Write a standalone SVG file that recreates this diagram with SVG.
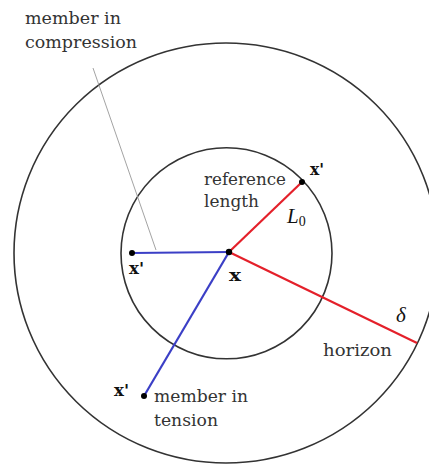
<svg xmlns="http://www.w3.org/2000/svg" width="429" height="464" viewBox="0 0 429 464">
<style>
.circ{fill:none;stroke:#333;stroke-width:1.6}
.red{stroke:#e4202a;stroke-width:2.2;fill:none}
.blue{stroke:#3b3fc6;stroke-width:2.2;fill:none}
.lead{stroke:#999;stroke-width:0.9;fill:none}
.lbl{font-family:"DejaVu Serif","Liberation Serif",serif;font-size:17px;fill:#333}
.pt{font-family:"DejaVu Serif","Liberation Serif",serif;font-size:17px;font-weight:bold;fill:#111}
.math{font-family:"Liberation Serif","DejaVu Serif",serif;font-style:italic;font-size:21px;fill:#111}
.dot{fill:#000}
</style>
<rect width="429" height="464" fill="#fff"/>
<g id="horizon-circle"><ellipse class="circ" cx="226" cy="253" rx="212" ry="210"/></g>
<g id="reference-circle"><circle class="circ" cx="226.5" cy="253.3" r="105.5"/></g>
<g id="connectors">
<line class="lead" x1="93" y1="68" x2="156" y2="250"/>
<line class="red" x1="229" y1="252" x2="302" y2="182"/>
<line class="red" x1="229" y1="252" x2="417" y2="343"/>
<line class="blue" x1="229" y1="252" x2="132" y2="253"/>
<line class="blue" x1="229" y1="252" x2="144" y2="396"/>
</g>
<g id="node-x"><circle class="dot" cx="229" cy="252" r="3.2"/><text class="pt" x="229" y="281" textLength="12" lengthAdjust="spacingAndGlyphs">x</text></g>
<g id="node-xp-ref"><circle class="dot" cx="302" cy="182" r="3"/><text class="pt" x="310" y="175" textLength="14" lengthAdjust="spacingAndGlyphs">x'</text></g>
<g id="node-xp-comp"><circle class="dot" cx="132" cy="253" r="3"/><text class="pt" x="129" y="274" textLength="15" lengthAdjust="spacingAndGlyphs">x'</text></g>
<g id="node-xp-tens"><circle class="dot" cx="144" cy="396" r="3"/><text class="pt" x="114" y="396" textLength="15" lengthAdjust="spacingAndGlyphs">x'</text></g>
<g id="label-compression">
<text class="lbl" x="25" y="24" textLength="96" lengthAdjust="spacingAndGlyphs">member in</text>
<text class="lbl" x="25" y="48" textLength="112" lengthAdjust="spacingAndGlyphs">compression</text>
</g>
<g id="label-reference">
<text class="lbl" x="204" y="185" textLength="82" lengthAdjust="spacingAndGlyphs">reference</text>
<text class="lbl" x="204" y="207" textLength="55" lengthAdjust="spacingAndGlyphs">length</text>
</g>
<g id="label-L0"><text class="math" x="287" y="223">L<tspan font-style="normal" font-size="14" dy="3">0</tspan></text></g>
<g id="label-delta"><text class="math" x="396" y="322">δ</text></g>
<g id="label-horizon"><text class="lbl" x="323" y="356" textLength="69" lengthAdjust="spacingAndGlyphs">horizon</text></g>
<g id="label-tension">
<text class="lbl" x="154" y="402" textLength="94" lengthAdjust="spacingAndGlyphs">member in</text>
<text class="lbl" x="154" y="426" textLength="64" lengthAdjust="spacingAndGlyphs">tension</text>
</g>
</svg>
